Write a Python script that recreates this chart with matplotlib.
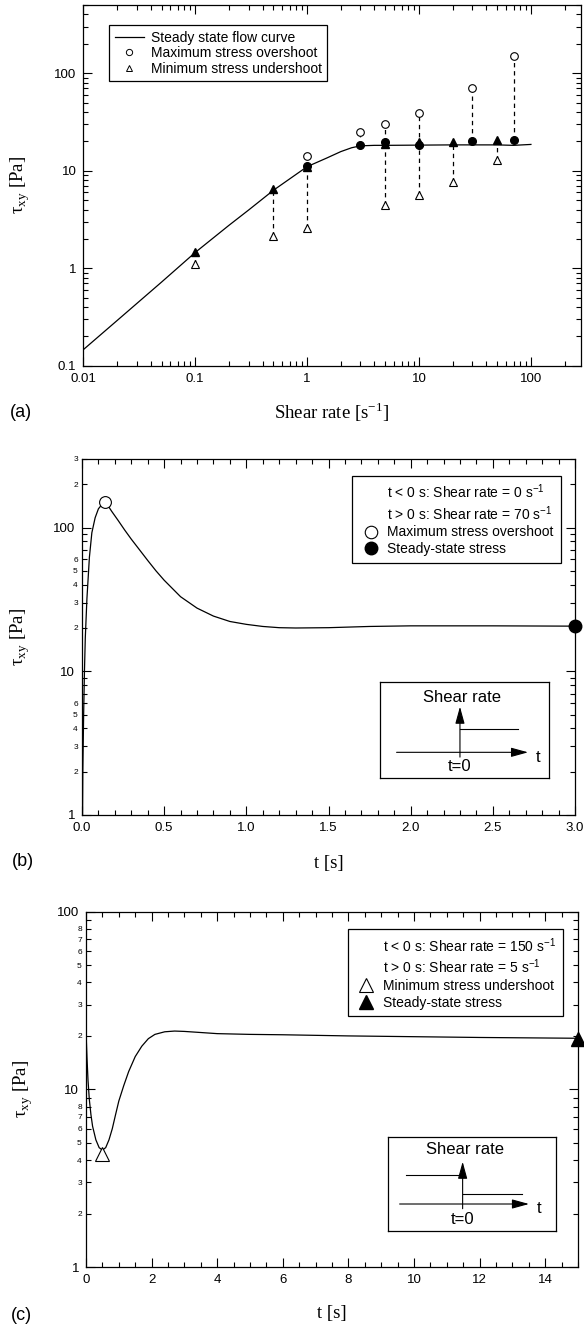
import numpy as np
import matplotlib
matplotlib.use('Agg')
import matplotlib.pyplot as plt
from matplotlib import ticker
from matplotlib.lines import Line2D

plt.rcParams['font.family'] = ['Liberation Sans', 'DejaVu Sans']
plt.rcParams['axes.linewidth'] = 0.9

# ---- (a) flow curve and transient extremes ----
flow_rate = [0.01, 0.02, 0.05, 0.1, 0.2, 0.3, 0.5, 1, 1.5, 2, 2.5, 3, 4, 5, 10, 20, 50, 70, 100]
flow_stress = [0.146, 0.29, 0.72, 1.45, 2.75, 3.95, 6.3, 11.0, 13.5, 15.7, 17.2, 18.0, 18.2, 18.2, 18.3, 18.4, 18.4, 18.2, 18.6]

over_rate = [1, 3, 5, 10, 30, 70]
over_max = [14.0, 24.7, 30.0, 39.0, 71.0, 150.0]
over_ss = [11.1, 18.2, 19.8, 18.5, 20.3, 20.8]

under_rate = [0.1, 0.5, 1, 5, 10, 20, 50]
under_min = [1.1, 2.14, 2.6, 4.4, 5.7, 7.7, 12.9]
under_ss = [1.45, 6.5, 11.0, 19.0, 19.5, 19.7, 20.5]

# ---- (b) start-up 0 -> 70 1/s ----
b_time = [0.003, 0.005, 0.010, 0.015, 0.020, 0.030, 0.045, 0.060, 0.080, 0.100, 0.120,
          0.140, 0.160, 0.180, 0.22, 0.26, 0.30, 0.35, 0.40, 0.45, 0.50, 0.60, 0.70,
          0.80, 0.90, 1.00, 1.10, 1.20, 1.30, 1.50, 1.75, 2.00, 2.50, 3.00]
b_stress = [0.9, 2.0, 5.0, 10.0, 17.0, 32.0, 62.0, 92.0, 117.0, 135.0, 144.0,
            146.0, 141.0, 130.0, 112.0, 96.0, 83.0, 70.0, 59.0, 50.0, 43.0, 33.0, 27.5,
            24.2, 22.2, 21.2, 20.5, 20.1, 20.0, 20.1, 20.5, 20.7, 20.7, 20.6]
b_peak_t, b_peak = 0.14, 151.0
b_ss_t, b_ss = 3.0, 20.6

# ---- (c) step down 150 -> 5 1/s ----
c_time = [0.00, 0.03, 0.06, 0.10, 0.15, 0.20, 0.30, 0.40, 0.50, 0.60, 0.70, 0.80, 0.90,
          1.00, 1.15, 1.30, 1.50, 1.70, 1.90, 2.10, 2.40, 2.70, 3.00, 3.50, 4.00, 5.00,
          6.00, 8.00, 10.0, 12.0, 15.0]
c_stress = [21.0, 15.0, 11.3, 8.8, 7.2, 6.2, 5.2, 4.7, 4.55, 4.7, 5.2, 6.0, 7.2,
            8.6, 10.5, 12.6, 15.3, 17.5, 19.3, 20.4, 21.1, 21.3, 21.2, 20.9, 20.6, 20.4,
            20.3, 20.0, 19.8, 19.6, 19.4]
c_min_t, c_min = 0.5, 4.35
c_ss_t, c_ss = 15.0, 19.2

serif = 'Liberation Serif'
plain = ticker.FuncFormatter(lambda v, p: f'{v:g}')


def minor_digits(keep):
    def f(v, p):
        d = int(round(v / 10 ** np.floor(np.log10(v) + 1e-9)))
        return str(d) if d in keep else ''
    return ticker.FuncFormatter(f)


def style(ax):
    ax.tick_params(which='both', direction='in', top=True, right=True, width=0.8,
                   labelsize=9.5)
    ax.tick_params(which='major', length=6.5, pad=5)
    ax.tick_params(which='minor', length=3.3)


def labels(ax, xl, xpos, ylpos):
    ax.set_xlabel(xl, fontfamily=serif, fontsize=13.5)
    ax.xaxis.label.set_va('center')
    ax.xaxis.set_label_coords(0.5, xpos)
    ax.set_ylabel('τ$_{\\mathregular{xy}}$ [Pa]', fontfamily=serif, fontsize=13.5)
    ax.yaxis.label.set_va('center')
    ax.yaxis.set_label_coords(ylpos, 0.5)


def inset(ax, rect, levels, arrow_x, arrow_y, vtop, tx, sx, sy, t0y):
    ins = ax.inset_axes(rect)
    ins.set_xlim(0, 1)
    ins.set_ylim(0, 1)
    ins.set_xticks([])
    ins.set_yticks([])
    for s in ins.spines.values():
        s.set_linewidth(0.9)
    ap = dict(arrowstyle='-|>,head_length=0.8,head_width=0.22', color='black', lw=0.8,
              mutation_scale=13, shrinkA=0, shrinkB=0)
    ins.annotate('', xy=(arrow_x[1], arrow_y), xytext=(arrow_x[0], arrow_y), arrowprops=ap)
    ins.annotate('', xy=(tx, vtop), xytext=(tx, arrow_y - 0.05), arrowprops=ap)
    for x0, x1, y in levels:
        ins.plot([x0, x1], [y, y], color='black', lw=0.8)
    ins.text(arrow_x[1] + 0.06, arrow_y - 0.05, 't', fontsize=12, ha='center', va='center')
    ins.text(tx, t0y, 't=0', fontsize=12, ha='center', va='center')
    ins.text(sx, sy, 'Shear rate', fontsize=12, ha='center', va='center')


fig = plt.figure(figsize=(5.84, 13.28), dpi=100)

# ================= (a) =================
ax = fig.add_axes([0.1426, 0.7246, 0.8522, 0.2716])
ax.set_xscale('log')
ax.set_yscale('log')
ax.vlines(over_rate, over_ss, over_max, colors='black', linestyles=(0, (3.5, 3)), lw=0.9)
ax.vlines(under_rate, under_min, under_ss, colors='black', linestyles=(0, (3.5, 3)), lw=0.9)
ax.plot(flow_rate, flow_stress, color='black', lw=0.9)
ax.plot(over_rate, over_max, ls='none', marker='o', ms=5.5, mfc='white', mec='black', mew=0.8)
ax.plot(over_rate, over_ss, ls='none', marker='o', ms=5.5, color='black')
ax.plot(under_rate, under_min, ls='none', marker='^', ms=6, mfc='white', mec='black', mew=0.8)
ax.plot(under_rate, under_ss, ls='none', marker='^', ms=6, color='black')
ax.set_xlim(0.01, 280)
ax.set_ylim(0.1, 500)
style(ax)
ax.xaxis.set_major_formatter(plain)
ax.yaxis.set_major_formatter(plain)
ax.xaxis.set_minor_formatter(ticker.NullFormatter())
ax.yaxis.set_minor_formatter(ticker.NullFormatter())
labels(ax, 'Shear rate [s$^{\\mathregular{-1}}$]', -0.128, -0.127)
hl = [Line2D([], [], color='black', lw=0.9),
      Line2D([], [], ls='none', marker='o', ms=4.5, mfc='white', mec='black', mew=0.7),
      Line2D([], [], ls='none', marker='^', ms=4.5, mfc='white', mec='black', mew=0.7)]
leg = ax.legend(hl, ['Steady state flow curve', 'Maximum stress overshoot',
                     'Minimum stress undershoot'],
                loc='upper left', bbox_to_anchor=(0.0516, 0.9446), borderaxespad=0,
                fontsize=10, fancybox=False, edgecolor='black', framealpha=1,
                handlelength=2.1, handletextpad=0.5, borderpad=0.4, labelspacing=0.12)
leg.get_frame().set_linewidth(0.9)
fig.text(21 / 584, 1 - 412 / 1328, '(a)', fontsize=13, ha='center', va='center')

# ================= (b) =================
ax = fig.add_axes([0.1404, 0.3863, 0.8442, 0.2681])
ax.set_yscale('log')
ax.plot(b_time, b_stress, color='black', lw=0.9)
ax.plot([b_peak_t], [b_peak], ls='none', marker='o', ms=8.5, mfc='white', mec='black', mew=0.8)
ax.plot([b_ss_t], [b_ss], ls='none', marker='o', ms=9, color='black', clip_on=False, zorder=5)
ax.set_xlim(0, 3)
ax.set_ylim(1, 300)
style(ax)
ax.xaxis.set_major_locator(ticker.MultipleLocator(0.5))
ax.xaxis.set_minor_locator(ticker.MultipleLocator(0.1))
ax.xaxis.set_major_formatter(ticker.FormatStrFormatter('%.1f'))
ax.yaxis.set_major_formatter(plain)
ax.yaxis.set_minor_locator(ticker.LogLocator(base=10, subs=np.arange(2, 10)))
ax.yaxis.set_minor_formatter(minor_digits({2, 3, 4, 5, 6}))
ax.tick_params(axis='y', which='minor', labelsize=6, pad=3)
labels(ax, 't [s]', -0.135, -0.125)
hl = [Line2D([], [], ls='none'), Line2D([], [], ls='none'),
      Line2D([], [], ls='none', marker='o', ms=9, mfc='white', mec='black', mew=0.8),
      Line2D([], [], ls='none', marker='o', ms=9, color='black')]
leg = ax.legend(hl, ['t < 0 s: Shear rate = 0 s$^{\\mathregular{-1}}$',
                     't > 0 s: Shear rate = 70 s$^{\\mathregular{-1}}$',
                     'Maximum stress overshoot', 'Steady-state stress'],
                loc='upper right', bbox_to_anchor=(0.9706, 0.953), borderaxespad=0,
                fontsize=10, fancybox=False, edgecolor='black', framealpha=1,
                handlelength=1.6, handletextpad=0.4, borderpad=0.5, labelspacing=0.2)
leg.get_frame().set_linewidth(0.9)
inset(ax, [0.6045, 0.1048, 0.3428, 0.2688], [(0.473, 0.819, 0.512)],
      (0.098, 0.876), 0.265, 0.742, 0.473, 0.485, 0.836, 0.112)
fig.text(22.5 / 584, 1 - 862 / 1328, '(b)', fontsize=13, ha='center', va='center')

# ================= (c) =================
ax = fig.add_axes([0.1473, 0.04593, 0.8425, 0.2675])
ax.set_yscale('log')
ax.plot(c_time, c_stress, color='black', lw=0.9)
ax.plot([c_min_t], [c_min], ls='none', marker='^', ms=9.5, mfc='white', mec='black', mew=0.8)
ax.plot([c_ss_t], [c_ss], ls='none', marker='^', ms=9.5, color='black', clip_on=False, zorder=5)
ax.set_xlim(0, 15)
ax.set_ylim(1, 100)
style(ax)
ax.xaxis.set_major_locator(ticker.MultipleLocator(2))
ax.xaxis.set_minor_locator(ticker.MultipleLocator(0.5))
ax.yaxis.set_major_formatter(plain)
ax.yaxis.set_minor_locator(ticker.LogLocator(base=10, subs=np.arange(2, 10)))
ax.yaxis.set_minor_formatter(minor_digits({2, 3, 4, 5, 6, 7, 8}))
ax.tick_params(axis='y', which='minor', labelsize=6, pad=3)
labels(ax, 't [s]', -0.1295, -0.128)
hl = [Line2D([], [], ls='none'), Line2D([], [], ls='none'),
      Line2D([], [], ls='none', marker='^', ms=10.5, mfc='white', mec='black', mew=0.8),
      Line2D([], [], ls='none', marker='^', ms=10.5, color='black')]
leg = ax.legend(hl, ['t < 0 s: Shear rate = 150 s$^{\\mathregular{-1}}$',
                     't > 0 s: Shear rate = 5 s$^{\\mathregular{-1}}$',
                     'Minimum stress undershoot', 'Steady-state stress'],
                loc='upper right', bbox_to_anchor=(0.9695, 0.9513), borderaxespad=0,
                fontsize=10, fancybox=False, edgecolor='black', framealpha=1,
                handlelength=1.6, handletextpad=0.4, borderpad=0.5, labelspacing=0.2)
leg.get_frame().set_linewidth(0.9)
inset(ax, [0.6138, 0.1022, 0.3415, 0.2646],
      [(0.107, 0.444, 0.596), (0.444, 0.798, 0.39)],
      (0.069, 0.839), 0.284, 0.734, 0.444, 0.458, 0.859, 0.114)
fig.text(21.5 / 584, 1 - 1316 / 1328, '(c)', fontsize=13, ha='center', va='center')

fig.savefig('out.png', dpi=100)
